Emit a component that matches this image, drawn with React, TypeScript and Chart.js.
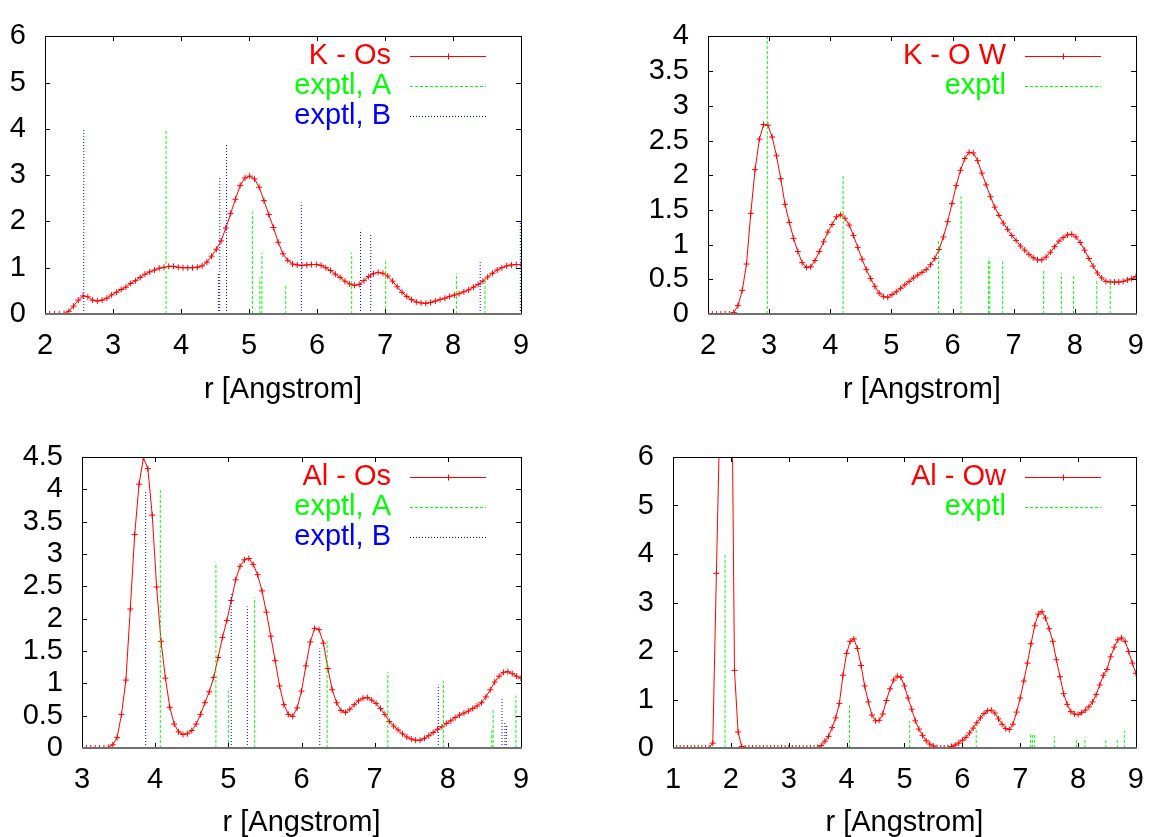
import React, { useEffect, useRef } from "react";
import { Chart, registerables } from "chart.js";
Chart.register(...registerables);

const FONT = "'Liberation Sans', Arial, Helvetica, sans-serif";
const FS = 29;

// ---------- Panel 1: K - Os ----------
const kOsR0 = 2;
const kOsDr = 0.07;
const kOsG = [
  0, 0, 0, 0, 0.01, 0.06, 0.17, 0.3, 0.39, 0.37,
  0.3, 0.28, 0.3, 0.34, 0.41, 0.47, 0.53, 0.58, 0.66, 0.72,
  0.79, 0.86, 0.91, 0.95, 0.99, 1.01, 1.03, 1.03, 1.01, 1.0,
  1.0, 1.0, 1.01, 1.04, 1.12, 1.25, 1.4, 1.58, 1.86, 2.17,
  2.48, 2.78, 2.94, 2.98, 2.92, 2.74, 2.45, 2.15, 1.87, 1.55,
  1.3, 1.16, 1.08, 1.06, 1.05, 1.06, 1.07, 1.07, 1.05, 1.0,
  0.94, 0.86, 0.79, 0.71, 0.65, 0.62, 0.64, 0.72, 0.81, 0.87,
  0.9, 0.88, 0.82, 0.71, 0.59, 0.47, 0.38, 0.31, 0.26, 0.24,
  0.23, 0.25, 0.28, 0.31, 0.34, 0.38, 0.41, 0.44, 0.48, 0.52,
  0.58, 0.64, 0.71, 0.8, 0.88, 0.95, 1.0, 1.04, 1.06, 1.07,
  1.07,
];
const kOsAR = [3.78, 5.05, 5.16, 5.19, 5.54, 6.51, 7.01, 8.05, 8.47];
const kOsAH = [4.0, 2.21, 0.78, 1.33, 0.64, 1.33, 1.17, 0.88, 0.78];
const kOsBR = [2.57, 4.55, 4.57, 4.67, 5.77, 6.64, 6.79, 8.4, 8.99];
const kOsBH = [4.0, 0.88, 2.94, 3.67, 2.41, 1.82, 1.74, 1.15, 2.0];

// ---------- Panel 2: K - O W ----------
const kOwR0 = 2;
const kOwDr = 0.07;
const kOwG = [
  0, 0, 0, 0, 0, 0, 0.02, 0.12, 0.34, 0.72,
  1.45, 2.08, 2.52, 2.73, 2.72, 2.55, 2.28, 1.95, 1.58, 1.32,
  1.09, 0.9, 0.74, 0.67, 0.68, 0.77, 0.9, 1.04, 1.18, 1.29,
  1.4, 1.43, 1.38, 1.28, 1.13, 0.96, 0.79, 0.64, 0.51, 0.4,
  0.3, 0.25, 0.24, 0.28, 0.32, 0.37, 0.42, 0.47, 0.52, 0.56,
  0.6, 0.64, 0.71, 0.8, 0.93, 1.11, 1.33, 1.59, 1.85, 2.07,
  2.24, 2.33, 2.32, 2.21, 2.03, 1.86, 1.69, 1.54, 1.42, 1.31,
  1.22, 1.13, 1.06, 0.98, 0.92, 0.86, 0.81, 0.78, 0.78, 0.82,
  0.89, 0.97, 1.05, 1.1, 1.14, 1.15, 1.11, 1.03, 0.92, 0.8,
  0.69, 0.59, 0.52, 0.47, 0.46, 0.46, 0.46, 0.47, 0.49, 0.51,
  0.54,
];
const kOwAR = [2.97, 4.21, 5.77, 6.14, 6.59, 6.61, 6.82, 7.49, 7.78, 7.98, 8.36, 8.58];
const kOwAH = [4.0, 1.99, 1.06, 1.73, 0.8, 0.78, 0.76, 0.63, 0.59, 0.55, 0.51, 0.46];

// ---------- Panel 3: Al - Os ----------
const alOsR0 = 3;
const alOsDr = 0.06;
const alOsG = [
  0, 0, 0, 0, 0, 0, 0.01, 0.05, 0.16, 0.52,
  1.05, 2.15, 3.3, 4.08, 4.49, 4.32, 3.6, 2.49, 1.65, 1.08,
  0.63, 0.37, 0.25, 0.21, 0.22, 0.27, 0.37, 0.52, 0.7, 0.87,
  1.09, 1.4, 1.71, 1.97, 2.28, 2.6, 2.81, 2.91, 2.93, 2.84,
  2.68, 2.43, 2.1, 1.73, 1.35, 0.96, 0.67, 0.52, 0.49, 0.62,
  0.88, 1.27, 1.64, 1.85, 1.83, 1.62, 1.23, 0.9, 0.7, 0.58,
  0.55, 0.6, 0.67, 0.73, 0.77, 0.78, 0.74, 0.69, 0.61, 0.52,
  0.41, 0.34, 0.28, 0.22, 0.17, 0.14, 0.12, 0.12, 0.15, 0.19,
  0.24, 0.29, 0.33, 0.38, 0.42, 0.47, 0.51, 0.54, 0.57, 0.61,
  0.65, 0.7, 0.79, 0.9, 1.02, 1.11, 1.17, 1.18, 1.15, 1.11,
  1.08,
];
const alOsAR = [4.07, 4.83, 5.0, 5.36, 6.35, 7.18, 7.94, 8.6, 8.62, 8.93];
const alOsAH = [4.0, 2.87, 0.89, 2.33, 1.65, 1.18, 1.04, 0.27, 0.58, 0.81];
const alOsBR = [3.87, 5.04, 5.26, 6.25, 7.87, 8.74, 8.78, 8.8];
const alOsBH = [3.99, 2.38, 2.19, 1.54, 0.98, 0.79, 0.4, 0.36];

// ---------- Panel 4: Al - Ow ----------
const alOwR0 = 1;
const alOwDr = 0.0625;
const alOwG = [
  0, 0, 0, 0, 0, 0, 0, 0, 0, 0, 0,
  0.1, 3.6, 7.0, 13, 14, 10, 1.6, 0.33, 0.03,
  0, 0, 0, 0, 0, 0, 0, 0, 0, 0, 0, 0, 0, 0, 0, 0, 0, 0, 0, 0,
  0.01, 0.05, 0.14, 0.24, 0.42, 0.62, 0.92, 1.5, 1.95, 2.2,
  2.25, 2.05, 1.7, 1.28, 0.95, 0.68, 0.56, 0.57, 0.7, 0.98,
  1.22, 1.4, 1.48, 1.46, 1.28, 1.03, 0.8, 0.56, 0.39, 0.26,
  0.15, 0.08, 0.04, 0.01, 0, 0, 0.01, 0.03, 0.06, 0.1,
  0.16, 0.22, 0.31, 0.41, 0.52, 0.62, 0.71, 0.77, 0.78, 0.72,
  0.6, 0.49, 0.4, 0.38, 0.49, 0.74, 1.03, 1.38, 1.75, 2.15,
  2.52, 2.76, 2.81, 2.68, 2.46, 2.2, 1.82, 1.47, 1.12, 0.9,
  0.75, 0.7, 0.69, 0.73, 0.78, 0.85, 0.95, 1.1, 1.3, 1.5,
  1.62, 1.88, 2.08, 2.23, 2.27, 2.2, 1.99, 1.75, 1.54,
];
const alOwAR = [1.9, 4.05, 5.09, 6.24, 7.18, 7.21, 7.25, 7.59, 7.97, 8.12, 8.48, 8.68, 8.8];
const alOwAH = [4.0, 0.88, 0.56, 0.38, 0.27, 0.27, 0.27, 0.24, 0.21, 0.22, 0.17, 0.17, 0.36];

const RED = "#ff0000";
const GREEN = "#00ff00";
const BLUE = "#0000ff";

function curve(r0: number, dr: number, g: number[]) {
  return g.map((v, i) => ({ x: +(r0 + i * dr).toFixed(4), y: v }));
}
function sticks(r: number[], h: number[]) {
  const out: any[] = [];
  r.forEach((x, i) => {
    out.push({ x, y: 0 }, { x, y: h[i] }, { x, y: null });
  });
  return out;
}

const curveDs = (label: string, data: any[]) => ({
  label,
  data,
  borderColor: RED,
  backgroundColor: RED,
  borderWidth: 1,
  pointStyle: "cross",
  pointRadius: 3,
  pointBorderColor: RED,
  pointBorderWidth: 1,
  tension: 0,
  fill: false,
  order: 2,
});
const stickDs = (label: string, data: any[], color: string, dash: number[], order: number) => ({
  label,
  data,
  borderColor: color,
  backgroundColor: color,
  borderWidth: 1,
  borderDash: dash,
  pointRadius: 0,
  spanGaps: false,
  tension: 0,
  fill: false,
  order,
});

const fmt = (v: any) => String(Number(Number(v).toFixed(3)));

const framePlugin = {
  id: "gframe",
  afterDraw(chart: any) {
    const { ctx, chartArea: a, scales } = chart;
    const L = Math.round(a.left), R = Math.round(a.right), T = Math.round(a.top), B = Math.round(a.bottom);
    ctx.save();
    ctx.setLineDash([]);
    ctx.strokeStyle = "#000";
    ctx.lineWidth = 1;
    ctx.beginPath();
    ctx.moveTo(L + 0.5, B);
    ctx.lineTo(L + 0.5, T + 0.5);
    ctx.lineTo(R + 0.5, T + 0.5);
    ctx.lineTo(R + 0.5, B);
    const tl = 5;
    scales.x.ticks.forEach((t: any) => {
      const px = Math.round(scales.x.getPixelForValue(t.value)) + 0.5;
      ctx.moveTo(px, B);
      ctx.lineTo(px, B - tl);
      ctx.moveTo(px, T);
      ctx.lineTo(px, T + tl);
    });
    scales.y.ticks.forEach((t: any) => {
      const py = Math.round(scales.y.getPixelForValue(t.value)) + 0.5;
      ctx.moveTo(L, py);
      ctx.lineTo(L + tl, py);
      ctx.moveTo(R, py);
      ctx.lineTo(R - tl, py);
    });
    ctx.stroke();
    ctx.strokeStyle = "#707070";
    ctx.lineWidth = 2;
    ctx.beginPath();
    ctx.moveTo(L, B);
    ctx.lineTo(R + 1, B);
    ctx.stroke();
    ctx.restore();
  },
};

const keyPlugin = {
  id: "gkey",
  afterDraw(chart: any) {
    const { ctx, chartArea: a } = chart;
    const R = Math.round(a.right);
    const T = Math.round(a.top);
    ctx.save();
    ctx.font = `${FS}px ${FONT}`;
    ctx.textAlign = "right";
    ctx.textBaseline = "middle";
    chart.data.datasets.forEach((ds: any, i: number) => {
      const y = T + 20 + i * 29.8;
      ctx.fillStyle = ds.borderColor;
      ctx.fillText(ds.label, R - 130, y);
      const ly = Math.round(y) + 0.5;
      ctx.strokeStyle = ds.borderColor;
      ctx.lineWidth = 1;
      ctx.setLineDash(ds.borderDash || []);
      ctx.beginPath();
      ctx.moveTo(R - 111, ly);
      ctx.lineTo(R - 35, ly);
      ctx.stroke();
      if (ds.pointStyle === "cross") {
        ctx.setLineDash([]);
        const cx = R - 73 + 0.5;
        ctx.beginPath();
        ctx.moveTo(cx - 3, ly);
        ctx.lineTo(cx + 3, ly);
        ctx.moveTo(cx, ly - 3);
        ctx.lineTo(cx, ly + 3);
        ctx.stroke();
      }
    });
    ctx.restore();
  },
};

type PanelCfg = {
  x: number; y: number; w: number; h: number;
  L: number; T: number; R: number; B: number;
  xmin: number; xmax: number; ymin: number; ymax: number; ystep: number;
  titlePad: number;
  datasets: any[];
};

const panels: PanelCfg[] = [
  {
    x: 0, y: 0, w: 579, h: 418, L: 45, T: 23, R: 521, B: 314,
    xmin: 2, xmax: 9, ymin: 0, ymax: 6, ystep: 1, titlePad: 14,
    datasets: [
      curveDs("K - Os", curve(kOsR0, kOsDr, kOsG)),
      stickDs("exptl, A", sticks(kOsAR, kOsAH), GREEN, [3, 2], 1),
      stickDs("exptl, B", sticks(kOsBR, kOsBH), BLUE, [1, 2], 0),
    ],
  },
  {
    x: 579, y: 0, w: 580, h: 418, L: 129, T: 23, R: 569, B: 314,
    xmin: 2, xmax: 9, ymin: 0, ymax: 4, ystep: 0.5, titlePad: 14,
    datasets: [
      curveDs("K - O W", curve(kOwR0, kOwDr, kOwG)),
      stickDs("exptl", sticks(kOwAR, kOwAH), GREEN, [3, 2], 1),
    ],
  },
  {
    x: 0, y: 418, w: 579, h: 419, L: 82, T: 39, R: 521, B: 330,
    xmin: 3, xmax: 9, ymin: 0, ymax: 4.5, ystep: 0.5, titlePad: 0,
    datasets: [
      curveDs("Al - Os", curve(alOsR0, alOsDr, alOsG)),
      stickDs("exptl, A", sticks(alOsAR, alOsAH), GREEN, [3, 2], 1),
      stickDs("exptl, B", sticks(alOsBR, alOsBH), BLUE, [1, 2], 0),
    ],
  },
  {
    x: 579, y: 418, w: 580, h: 419, L: 94, T: 39, R: 569, B: 330,
    xmin: 1, xmax: 9, ymin: 0, ymax: 6, ystep: 1, titlePad: 0,
    datasets: [
      curveDs("Al - Ow", curve(alOwR0, alOwDr, alOwG)),
      stickDs("exptl", sticks(alOwAR, alOwAH), GREEN, [3, 2], 1),
    ],
  },
];

function Panel({ cfg }: { cfg: PanelCfg }) {
  const ref = useRef<HTMLCanvasElement>(null);
  useEffect(() => {
    const tickFont = { family: FONT, size: FS, lineHeight: 1.2 };
    const chart = new Chart(ref.current as HTMLCanvasElement, {
      type: "line",
      data: { datasets: cfg.datasets },
      options: {
        animation: false,
        responsive: false,
        devicePixelRatio: 1,
        events: [],
        layout: { padding: { top: cfg.T, right: cfg.w - cfg.R, left: 0, bottom: 0 } },
        plugins: { legend: { display: false }, tooltip: { enabled: false } },
        scales: {
          x: {
            type: "linear",
            min: cfg.xmin,
            max: cfg.xmax,
            ticks: {
              stepSize: 1, autoSkip: false, maxRotation: 0, minRotation: 0,
              padding: 15, color: "#000", font: tickFont, callback: fmt,
            },
            grid: { display: false, drawTicks: false },
            border: { display: false },
            title: {
              display: true, text: "r [Angstrom]", color: "#000",
              font: { family: FONT, size: FS, lineHeight: 1 },
              padding: { top: 0, bottom: cfg.titlePad },
            },
            afterFit: (s: any) => { s.height = cfg.h - cfg.B; },
          },
          y: {
            type: "linear",
            min: cfg.ymin,
            max: cfg.ymax,
            ticks: {
              stepSize: cfg.ystep, autoSkip: false, padding: 19, color: "#000",
              font: tickFont, callback: fmt,
            },
            grid: { display: false, drawTicks: false },
            border: { display: false },
            afterFit: (s: any) => { s.width = cfg.L; },
          },
        },
      } as any,
      plugins: [framePlugin, keyPlugin],
    });
    return () => chart.destroy();
  }, []);
  return (
    <canvas
      ref={ref}
      width={cfg.w}
      height={cfg.h}
      style={{ position: "absolute", left: cfg.x, top: cfg.y, width: cfg.w, height: cfg.h }}
    />
  );
}

export default function App() {
  return (
    <div
      style={{
        position: "absolute", left: 0, top: 0, width: 1159, height: 837,
        overflow: "hidden", background: "#fff",
      }}
    >
      {panels.map((p, i) => (
        <Panel key={i} cfg={p} />
      ))}
    </div>
  );
}
